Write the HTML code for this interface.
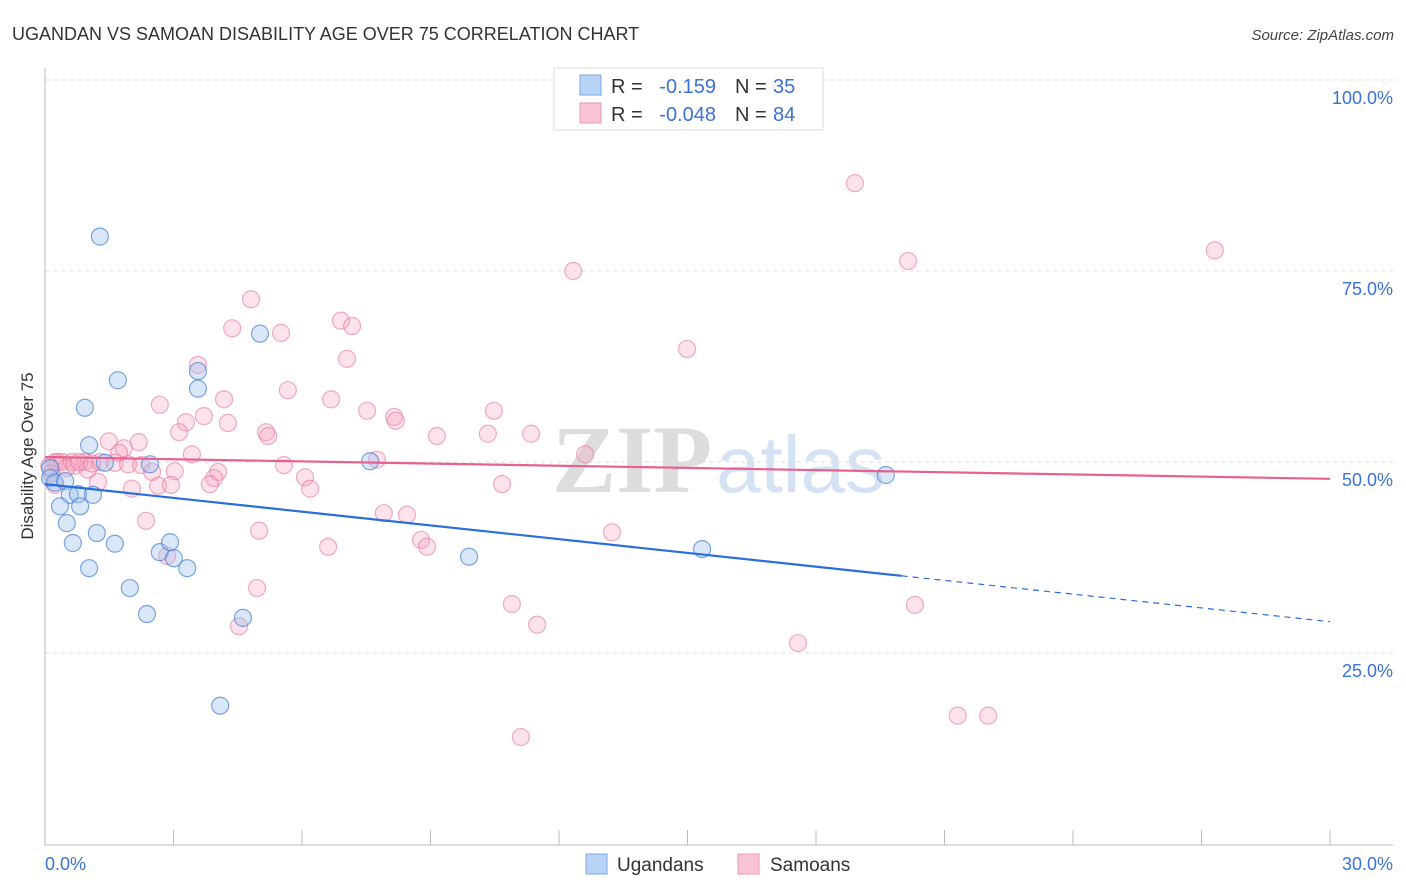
<!DOCTYPE html>
<html><head><meta charset="utf-8"><style>
body{margin:0;background:#fff;font-family:"Liberation Sans",sans-serif;}
svg{display:block}
</style></head><body>
<svg id="chart" width="1406" height="892" xmlns="http://www.w3.org/2000/svg">
<text x="12" y="40" font-size="18" fill="#333">UGANDAN VS SAMOAN DISABILITY AGE OVER 75 CORRELATION CHART</text>
<text x="1394" y="40" font-size="15" fill="#444" font-style="italic" text-anchor="end">Source: ZipAtlas.com</text>
<g>
<text x="552" y="492" font-size="96" fill="#ddd" font-family="Liberation Serif,serif" font-weight="bold">ZIP</text>
<text x="716" y="492" font-size="80" fill="#d4e2f4">atlas</text>
</g>
<g id="grid"></g>
<g id="axes"></g>
<text transform="translate(33,456) rotate(-90)" font-size="17" fill="#333" text-anchor="middle">Disability Age Over 75</text>
<g id="marks"></g>
<g>
<rect x="554" y="68" width="269" height="62" fill="#fff" stroke="#ddd"/>
<rect x="580" y="75" width="21" height="20" fill="#b8d3f5" stroke="#7aa7e6"/>
<rect x="580" y="103" width="21" height="20" fill="#f9c5d5" stroke="#ec96b2"/>
<g font-size="20">
<text x="611" y="93" fill="#333">R =</text>
<text x="716" y="93" fill="#3a72d8" text-anchor="end">-0.159</text>
<text x="735" y="93" fill="#333">N =</text>
<text x="773" y="93" fill="#3a72d8">35</text>
<text x="611" y="121" fill="#333">R =</text>
<text x="716" y="121" fill="#3a72d8" text-anchor="end">-0.048</text>
<text x="735" y="121" fill="#333">N =</text>
<text x="773" y="121" fill="#3a72d8">84</text>
</g>
</g>
<g>
<rect x="586" y="854" width="21" height="20" fill="#b8d3f5" stroke="#7aa7e6"/>
<text x="617" y="871" font-size="19" fill="#333">Ugandans</text>
<rect x="738" y="854" width="21" height="20" fill="#f9c5d5" stroke="#ec96b2"/>
<text x="770" y="871" font-size="19" fill="#333">Samoans</text>
</g>
</svg>
<script>
const xTickVals=[0,3,6,9,12,15,18,21,24,27,30];
const yTickVals=[25,50,75,100];
const yTickLabels=["25.0%","50.0%","75.0%","100.0%"];
const xEndLabels=["0.0%","30.0%"];
const ugX=[1.28,1.70,0.93,3.57,3.57,5.02,1.03,2.45,1.40,0.12,0.12,0.23,0.47,0.58,0.77,1.12,0.35,0.82,0.51,1.21,0.65,1.63,1.03,2.68,2.92,3.01,3.32,1.98,2.38,4.62,4.09,7.59,9.90,15.34,19.63];
const ugY=[79.5,60.7,57.1,59.6,61.9,66.8,52.2,49.7,49.9,49.2,47.9,47.3,47.5,45.7,45.8,45.7,44.2,44.2,42.0,40.7,39.4,39.3,36.1,38.2,39.5,37.4,36.1,33.5,30.1,29.6,18.1,50.1,37.6,38.6,48.3];
const saX=[18.91,27.31,20.15,12.33,4.81,4.37,5.51,6.91,7.17,14.99,3.57,7.05,5.67,4.18,6.68,2.68,7.52,10.48,3.71,8.15,8.19,3.29,4.27,3.13,5.16,5.21,9.15,10.34,11.35,1.49,2.19,1.84,1.73,3.43,12.61,7.75,0.23,0.40,0.63,0.93,1.28,1.63,1.94,2.24,5.58,0.70,1.00,2.50,3.03,4.04,6.07,3.95,1.24,2.64,2.94,3.85,2.03,6.19,10.67,0.23,2.36,7.91,8.45,5.00,13.24,8.78,8.92,6.61,2.85,4.95,10.90,20.31,11.49,4.53,17.58,21.31,22.02,11.11,0.10,0.15,0.30,0.50,0.80,1.10];
const saY=[86.5,77.7,76.3,75.0,71.3,67.5,66.9,68.5,67.8,64.8,62.7,63.5,59.4,58.2,58.2,57.5,56.7,56.7,56.0,55.9,55.4,55.2,55.1,53.9,53.9,53.4,53.4,53.7,53.7,52.7,52.6,51.8,51.2,51.0,51.0,50.3,50.0,50.0,50.0,50.0,50.0,49.9,49.7,49.6,49.6,49.5,49.0,48.7,48.8,48.7,48.0,47.9,47.4,46.9,47.0,47.1,46.5,46.5,47.1,47.0,42.3,43.3,43.1,41.0,40.8,39.8,38.9,38.9,37.7,33.5,31.4,31.3,28.7,28.5,26.3,16.8,16.8,14.0,49.5,48.5,50.0,49.2,50.0,49.8];
const ugLine=[47.1,29.1];
const ugSolidEnd=20;
const saLine=[50.65,47.8];

const NS="http://www.w3.org/2000/svg";
const X=v=>45+v/30*1285;
const Y=v=>844-v*7.64;
function mk(tag,attrs,parent){const e=document.createElementNS(NS,tag);for(const k in attrs)e.setAttribute(k,attrs[k]);parent.appendChild(e);return e;}
const grid=document.getElementById('grid'),axes=document.getElementById('axes'),marks=document.getElementById('marks');
yTickVals.forEach((v,i)=>{
 const l=mk('line',{x1:45,x2:1393,y1:Y(v),y2:Y(v),stroke:'#ddd','stroke-dasharray':'4,4'},grid);
 
 
 const t=mk('text',{x:1393,y:Y(v)+24,'font-size':18,fill:'#3a72d8','text-anchor':'end'},axes);
 t.textContent=yTickLabels[i];
 
 
});
mk('line',{x1:45,x2:45,y1:68,y2:845,stroke:'#bbb'},axes);
mk('line',{x1:45,x2:1393,y1:845,y2:845,stroke:'#bbb'},axes);
xTickVals.forEach(v=>{
 const t=mk('line',{x1:X(v),x2:X(v),y1:830,y2:845,stroke:'#bbb'},axes);
 
 
});
const xl0=mk('text',{x:45,y:870,'font-size':18,fill:'#3a72d8'},axes);xl0.textContent=xEndLabels[0];


const xl1=mk('text',{x:1393,y:870,'font-size':18,fill:'#3a72d8','text-anchor':'end'},axes);xl1.textContent=xEndLabels[1];


saX.forEach((x,i)=>{
 const c=mk('circle',{cx:X(x),cy:Y(saY[i]),r:8.5,fill:'rgba(244,160,188,0.3)',stroke:'rgba(232,120,156,0.6)','stroke-width':1.2},marks);
 
 
});
ugX.forEach((x,i)=>{
 const c=mk('circle',{cx:X(x),cy:Y(ugY[i]),r:8.5,fill:'rgba(160,196,240,0.4)',stroke:'rgba(70,130,215,0.7)','stroke-width':1.2},marks);
 
 
});
const ugAt=v=>ugLine[0]+(ugLine[1]-ugLine[0])*v/30;
const l1=mk('line',{x1:X(0),y1:Y(ugLine[0]),x2:X(ugSolidEnd),y2:Y(ugAt(ugSolidEnd)),stroke:'#2a6fd8','stroke-width':2.2},marks);


const l2=mk('line',{x1:X(ugSolidEnd),y1:Y(ugAt(ugSolidEnd)),x2:X(30),y2:Y(ugLine[1]),stroke:'#2a6fd8','stroke-width':1.2,'stroke-dasharray':'6,5'},marks);


const l3=mk('line',{x1:X(0),y1:Y(saLine[0]),x2:X(30),y2:Y(saLine[1]),stroke:'#e8608c','stroke-width':2.2},marks);


</script>
</body></html>
